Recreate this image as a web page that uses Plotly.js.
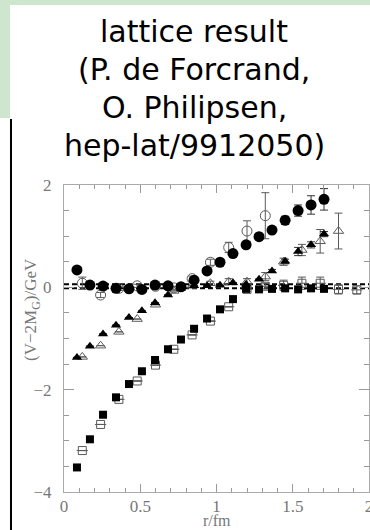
<!DOCTYPE html>
<html>
<head>
<meta charset="utf-8">
<script src="https://cdn.plot.ly/plotly-3.0.1.min.js"></script>
<style>
html,body{margin:0;padding:0;background:#fff;}
#chart{width:370px;height:530px;}
</style>
</head>
<body>
<div id="chart"></div>
<script>
// lattice spacings (r in fm)
var rFine = [0.085,0.17,0.256,0.341,0.426,0.511,0.597,0.682,0.767,0.853,0.938,1.023,1.108,1.194,1.279,1.364,1.45,1.535,1.62,1.705];
var rCoarse = [0.12,0.24,0.36,0.48,0.6,0.72,0.84,0.96,1.08,1.2,1.32,1.44,1.56,1.68,1.8,1.92];

// filled (fine lattice) series
var fillSquare = [-3.52,-2.97,-2.49,-2.15,-1.89,-1.64,-1.42,-1.21,-1.02,-0.81,-0.61,-0.43,-0.23,-0.03,-0.04,-0.03,-0.02,-0.04,-0.02,-0.03];
var fillTri    = [-1.37,-1.15,-0.91,-0.74,-0.59,-0.46,-0.30,-0.15,-0.02,0.03,0.03,0.04,0.09,0.06,0.16,0.32,0.51,0.70,0.83,1.04];
var fillTriErr = [0,0,0,0,0,0,0,0,0,0,0,0,0,0,0,0.03,0.04,0.08,0.06,0.05];
var fillCirc   = [0.34,0.045,0.025,-0.02,-0.03,-0.04,0.045,0.03,0.01,0.14,0.32,0.49,0.66,0.83,0.99,1.12,1.31,1.50,1.61,1.72];
var fillCircErr= [0,0,0,0,0,0,0,0,0,0,0,0,0,0,0,0.05,0.08,0.11,0.18,0.21];

// open (coarse lattice) series
var openSquare = [-3.19,-2.68,-2.19,-1.83,-1.52,-1.21,-0.93,-0.66,-0.38,-0.04,0.02,0.04,0.08,0.08,-0.04,-0.05];
var openSquareErr = [0,0,0,0,0,0,0,0,0,0.04,0.05,0.1,0.12,0.12,0.09,0.08];
var openTri    = [-1.36,-1.14,-0.87,-0.62,-0.34,-0.07,0.03,0.08,0.11,0.11,0.21,0.50,0.73,0.90,1.10];
var openTriErr = [0,0,0,0,0,0,0,0.04,0.06,0.06,0.08,0.07,0.11,0.23,0.35];
var openCirc   = [0.08,-0.15,-0.02,0.03,0.02,-0.01,0.17,0.49,0.78,1.10,1.40];
var openCircErr= [0.12,0.05,0.04,0.03,0.03,0.03,0.05,0.06,0.10,0.20,0.45];

// two-gluelump thresholds (dashed)
var thrX = [0, 2];
var thrUpper = [0.06, 0.06];
var thrLower = [-0.02, -0.02];

var xTicks = [0, 0.5, 1, 1.5, 2];
var xTickText = ['0', '0.5', '1', '1.5', '2'];
var yTicks = [-4, -2, 0, 2];
var yTickText = ['\u22124', '\u22122', '0', '2'];

var titleLines = ['lattice result', '(P. de Forcrand,', 'O. Philipsen,', 'hep-lat/9912050)'];

var OPEN = '#5a5a5a';
function errObj(arr, col){ return {type:'data', array:arr, visible:true, color:col, thickness:1, width:4}; }

var traces = [
  {x:thrX, y:thrUpper, mode:'lines', line:{color:'#000', width:2, dash:'5px,3px'}, hoverinfo:'skip'},
  {x:thrX, y:thrLower, mode:'lines', line:{color:'#000', width:2, dash:'5px,3px'}, hoverinfo:'skip'},
  {x:rCoarse, y:openSquare, mode:'markers', error_y:errObj(openSquareErr, OPEN),
   marker:{symbol:'square-open', size:8, color:OPEN, line:{width:1, color:OPEN}}},
  {x:rCoarse, y:openSquare, mode:'markers',
   marker:{symbol:'line-ew-open', size:8, color:OPEN, line:{width:1, color:OPEN}}},
  {x:rCoarse.slice(0, openTri.length), y:openTri, mode:'markers', error_y:errObj(openTriErr, OPEN),
   marker:{symbol:'triangle-up-open', size:9, color:OPEN, line:{width:1, color:OPEN}}},
  {x:rCoarse.slice(0, openCirc.length), y:openCirc, mode:'markers', error_y:errObj(openCircErr, OPEN),
   marker:{symbol:'circle-open', size:10, color:OPEN, line:{width:1, color:OPEN}}},
  {x:rFine, y:fillSquare, mode:'markers',
   marker:{symbol:'square', size:8, color:'#000'}},
  {x:rFine, y:fillTri, mode:'markers', error_y:errObj(fillTriErr, '#333'),
   marker:{symbol:'triangle-up', size:9, color:'#000'}},
  {x:rFine, y:fillCirc, mode:'markers', error_y:errObj(fillCircErr, '#333'),
   marker:{symbol:'circle', size:11, color:'#000'}}
];

// pixel -> paper helpers (plot area: x 64..369, y 185..492)
function px(p){ return (p - 64) / 305; }
function py(p){ return (492 - p) / 307; }

var annotations = [];
var baseY = [31.6, 69.6, 107.6, 145.6];
for (var i = 0; i < titleLines.length; i++) {
  annotations.push({xref:'paper', yref:'paper', x:px(194), y:py(baseY[i]), xanchor:'center', yanchor:'middle',
    text:titleLines[i], showarrow:false, font:{family:'DejaVu Sans', size:30, color:'#000'}});
}
annotations.push({xref:'paper', yref:'paper', x:px(32), y:py(310), textangle:-90, xanchor:'center', yanchor:'middle',
  text:'(V\u22122M<sub>G</sub>)/GeV', showarrow:false, font:{family:'Liberation Serif', size:17, color:'#777'}});
annotations.push({xref:'paper', yref:'paper', x:px(216.5), y:py(520), xanchor:'center', yanchor:'middle',
  text:'r/fm', showarrow:false, font:{family:'Liberation Serif', size:16, color:'#777'}, borderpad:0});

var shapes = [
  {type:'rect', xref:'paper', yref:'paper', x0:px(0), x1:px(371), y0:py(5), y1:py(-1), fillcolor:'#cde6cd', line:{width:0}, layer:'below'},
  {type:'rect', xref:'paper', yref:'paper', x0:px(-1), x1:px(10), y0:py(118), y1:py(-1), fillcolor:'#cde6cd', line:{width:0}, layer:'below'},
  {type:'line', xref:'paper', yref:'paper', x0:px(11), x1:px(11), y0:py(119), y1:py(531), line:{color:'#000', width:2}}
];

var axisFont = {family:'Liberation Serif', size:17, color:'#777'};
var layout = {
  width:370, height:530,
  margin:{l:64, r:1, t:185, b:38, pad:0},
  paper_bgcolor:'#fff', plot_bgcolor:'#fff',
  showlegend:false,
  xaxis:{range:[0,2], tickmode:'array', tickvals:xTicks, ticktext:xTickText, ticks:'inside', ticklen:8, tickwidth:1, tickcolor:'#999',
    showline:true, linecolor:'#aaa', linewidth:1, mirror:'ticks', showgrid:false, zeroline:false, tickfont:axisFont,
    ticklabelstandoff:-1, ticklabeloverflow:'allow',
    minor:{dtick:0.1, tick0:0, ticks:'inside', ticklen:4, tickcolor:'#999', tickwidth:1, showgrid:false}},
  yaxis:{range:[-4,2], tickmode:'array', tickvals:yTicks, ticktext:yTickText, ticks:'inside', ticklen:10, tickwidth:1, tickcolor:'#999',
    showline:true, linecolor:'#aaa', linewidth:1, mirror:'ticks', showgrid:false, zeroline:false, tickfont:axisFont,
    ticklabelstandoff:8, ticklabeloverflow:'allow',
    minor:{dtick:0.5, tick0:0, ticks:'inside', ticklen:5, tickcolor:'#999', tickwidth:1, showgrid:false}},
  annotations:annotations,
  shapes:shapes
};

Plotly.newPlot('chart', traces, layout, {staticPlot:true, displayModeBar:false});
</script>
</body>
</html>
